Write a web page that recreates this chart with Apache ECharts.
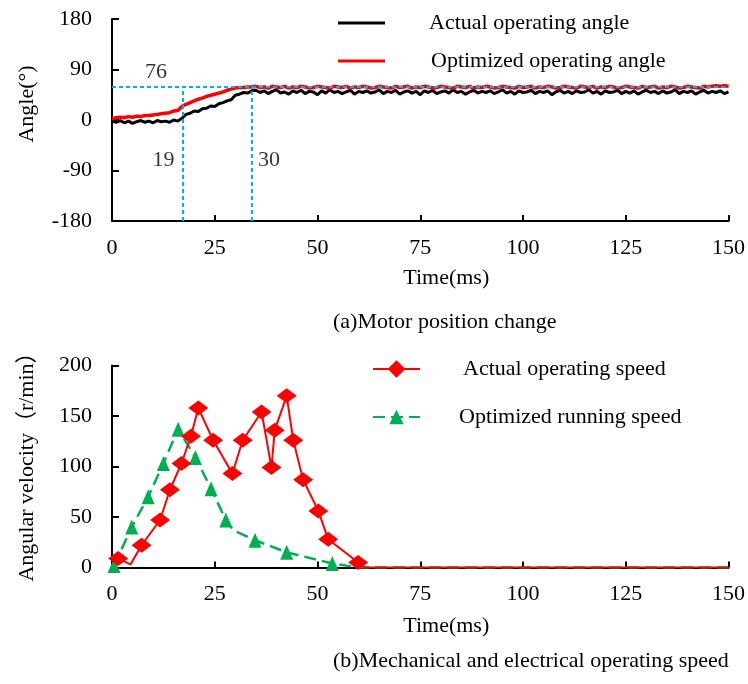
<!DOCTYPE html>
<html>
<head>
<meta charset="utf-8">
<script src="https://cdn.jsdelivr.net/npm/echarts@6/dist/echarts.min.js"></script>
<style>
  html, body { margin: 0; padding: 0; background: #fff; }
  #chart { width: 748px; height: 684px; }
</style>
</head>
<body>
<div id="chart"></div>
<script>
// (a) motor angle, sampled every 1 ms from 0 to 150 ms
const angleActual = [
  -2, -4, -1, -5, -2, -6, -3, -1, -4, -2, -5, -1, -3, -2, -4, 0, -2, 3,
  10, 12, 16, 15, 20, 21, 25, 24, 29, 31, 34, 36, 44, 46, 49, 48, 52,
  53, 49, 52, 47, 51, 54, 48, 50, 46, 52,
  49, 53, 47, 51, 50, 45, 52, 48, 54, 49,
  51, 47, 50, 53, 46, 51, 49, 52, 48, 50,
  54, 47, 51, 49, 53, 46, 50, 52, 48, 51,
  45, 52, 49, 53, 47, 50, 52, 48, 54, 49,
  51, 46, 50, 53, 48, 51, 49, 52, 47, 50,
  54, 48, 51, 46, 52, 49, 50, 53, 47, 51,
  49, 52, 45, 50, 53, 48, 51, 47, 52, 49,
  50, 54, 48, 51, 46, 52, 49, 50, 53, 47,
  51, 48, 52, 46, 50, 53, 49, 51, 47, 52,
  48, 50, 54, 47, 51, 49, 52, 46, 50, 53,
  48, 51, 49, 52, 47, 50
]
const angleOptimized = [
  2, 4, 5, 4, 6, 5, 7, 6, 8, 8, 9, 10, 11, 12, 13, 16, 17, 24, 28, 31,
  34, 37, 39, 42, 44, 46, 48, 50, 53, 55, 57, 58, 58, 59, 59,
  60, 58, 59, 57, 60, 59, 58, 60, 57, 59,
  58, 60, 59, 57, 58, 60, 59, 58, 57, 60,
  59, 58, 60, 57, 59, 58, 60, 59, 57, 58,
  60, 59, 58, 57, 60, 58, 59, 60, 57, 59,
  58, 60, 59, 57, 58, 60, 59, 58, 57, 60,
  59, 58, 60, 57, 59, 58, 60, 59, 57, 58,
  60, 59, 58, 57, 60, 58, 59, 60, 57, 59,
  58, 60, 59, 57, 58, 60, 59, 58, 57, 60,
  59, 58, 60, 57, 59, 58, 60, 59, 57, 58,
  60, 59, 58, 57, 60, 58, 59, 60, 57, 59,
  58, 60, 59, 57, 58, 60, 59, 58, 57, 60,
  59, 60, 61, 60, 61, 60
]
const sampleStepMs = 1

// guide lines and their labels in (a)
const guideAngle = 59
const guideTimes = [17.2, 34.1]
const noteTexts = ['76', '19', '30']
const noteTimes = [10.7, 12.5, 38.2]
const noteAngles = [86, -72.5, -72.5]

// (b) angular velocity
const actualTimes = [1.5, 4.5, 7.2, 11.7, 14.1, 16.9, 19.2, 21, 24.6, 29.3, 31.8, 36.4, 38.8, 39.6, 42.5, 44.1, 46.5, 50.2, 52.6, 59.9, 61.5, 150]
const actualSpeed = [9, 3, 22, 47, 77, 103, 130, 158, 126, 93, 126, 154, 99, 136, 170, 126, 87, 56, 28, 5, 0, 0]
const optTimes = [0.5, 4.8, 8.8, 12.5, 16.1, 20.3, 24.1, 27.7, 29.5, 34.8, 42.5, 53.6, 60, 150]
const optSpeed = [2, 40, 70, 103, 137, 109, 78, 47, 37, 27, 15, 4, 0, 0]
// samples drawn without a marker
const plainActual = [4.5, 61.5, 150]
const plainOpt = [29.5, 60, 150]

const timeTicks = [0, 150, 25]
const angleTicks = [-180, 180, 90]
const speedTicks = [0, 200, 50]

const FONT = "'Liberation Serif', 'Times New Roman', 'Noto Sans CJK SC', serif"
const ink = '#000'
const guideColor = '#00B0F0'

const chart = echarts.init(document.getElementById('chart'))

function xAxisOf(gridIndex) {
  return {
    type: 'value', gridIndex,
    min: timeTicks[0], max: timeTicks[1], interval: timeTicks[2],
    name: 'Time(ms)', nameLocation: 'middle', nameGap: gridIndex ? 48 : 46,
    nameTextStyle: { fontFamily: FONT, fontSize: 22, color: ink, padding: [0, 0, 0, 52] },
    axisLine: { onZero: false, lineStyle: { color: ink, width: 2 } },
    axisTick: { inside: true, length: 6, lineStyle: { color: ink, width: 2 } },
    axisLabel: { margin: 16, fontFamily: FONT, fontSize: 22, color: ink },
    splitLine: { show: false }
  }
}

function yAxisOf(gridIndex, ticks, name, namePad) {
  return {
    type: 'value', gridIndex,
    min: ticks[0], max: ticks[1], interval: ticks[2],
    name, nameLocation: 'middle', nameRotate: 90, nameGap: 74,
    nameTextStyle: { fontFamily: FONT, fontSize: 22, color: ink, padding: [0, 0, 0, namePad] },
    axisLine: { onZero: false, lineStyle: { color: ink, width: 2 } },
    axisTick: { inside: true, length: 7, lineStyle: { color: ink, width: 2 } },
    axisLabel: { margin: 20, fontFamily: FONT, fontSize: 22, color: ink },
    splitLine: { show: false }
  }
}

function legendOf(item, left, top, textPad, itemHeight) {
  return {
    data: [item], left, top, padding: 0,
    itemWidth: 47, itemHeight,
    textStyle: { fontFamily: FONT, fontSize: 22, color: ink, padding: [0, 0, 0, textPad] }
  }
}

const angleSeriesData = arr => arr.map((v, i) => [i * sampleStepMs, v])

const option = {
  animation: false,
  backgroundColor: '#fff',
  grid: [
    { left: 112, right: 19, top: 19, height: 202 },
    { left: 112, right: 19, top: 365.5, height: 202 }
  ],
  xAxis: [xAxisOf(0), xAxisOf(1)],
  yAxis: [
    yAxisOf(0, angleTicks, 'Angle(°)', 32),
    yAxisOf(1, speedTicks, 'Angular velocity（r/min）', 10)
  ],
  legend: [
    legendOf({ name: 'Actual operating angle', icon: 'rect' }, 338, 12, 39, 3),
    legendOf({ name: 'Optimized operating angle', icon: 'rect' }, 338, 50, 41, 3),
    legendOf('Actual operating speed', 372, 358, 38, 22),
    legendOf('Optimized running speed', 372, 406, 34, 18)
  ],
  graphic: [
    { type: 'text', left: 333, top: 311, style: { text: '(a)Motor position change', font: '22px ' + FONT, fill: ink } },
    { type: 'text', left: 333, top: 650, style: { text: '(b)Mechanical and electrical operating speed', font: '22px ' + FONT, fill: ink } }
  ],
  series: [
    {
      name: 'Actual operating angle', type: 'line',
      xAxisIndex: 0, yAxisIndex: 0, symbol: 'none',
      lineStyle: { color: '#000', width: 3 }, itemStyle: { color: '#000' },
      data: angleSeriesData(angleActual)
    },
    {
      name: 'Optimized operating angle', type: 'line',
      xAxisIndex: 0, yAxisIndex: 0, symbol: 'none',
      lineStyle: { color: '#FF0000', width: 3.5 }, itemStyle: { color: '#FF0000' },
      data: angleSeriesData(angleOptimized),
      markLine: {
        silent: true, symbol: 'none',
        label: { show: false },
        lineStyle: { color: guideColor, width: 2, type: [4, 3] },
        data: [
          [{ coord: [timeTicks[0], guideAngle] }, { coord: [timeTicks[1], guideAngle] }],
          ...guideTimes.map(t => [{ coord: [t, angleTicks[0]] }, { coord: [t, guideAngle] }])
        ]
      }
    },
    {
      name: 'notes', type: 'scatter',
      xAxisIndex: 0, yAxisIndex: 0, symbolSize: 0, silent: true,
      label: {
        show: true, position: 'inside',
        fontFamily: FONT, fontSize: 22, color: ink,
        formatter: p => p.value[2]
      },
      data: noteTexts.map((s, i) => [noteTimes[i], noteAngles[i], s])
    },
    {
      name: 'Optimized running speed', type: 'line',
      xAxisIndex: 1, yAxisIndex: 1,
      symbol: 'triangle', symbolSize: [13, 15],
      lineStyle: { color: '#00B050', width: 2.5, type: [12, 6] },
      itemStyle: { color: '#00B050' },
      data: optTimes.map((t, i) => ({ value: [t, optSpeed[i]], symbol: plainOpt.includes(t) ? 'none' : 'triangle' }))
    },
    {
      name: 'Actual operating speed', type: 'line',
      xAxisIndex: 1, yAxisIndex: 1,
      symbol: 'diamond', symbolSize: [20, 15],
      lineStyle: { color: '#FF0000', width: 2 },
      itemStyle: { color: '#FF0000' },
      data: actualTimes.map((t, i) => ({ value: [t, actualSpeed[i]], symbol: plainActual.includes(t) ? 'none' : 'diamond' }))
    }
  ]
}

chart.setOption(option)
</script>
</body>
</html>
